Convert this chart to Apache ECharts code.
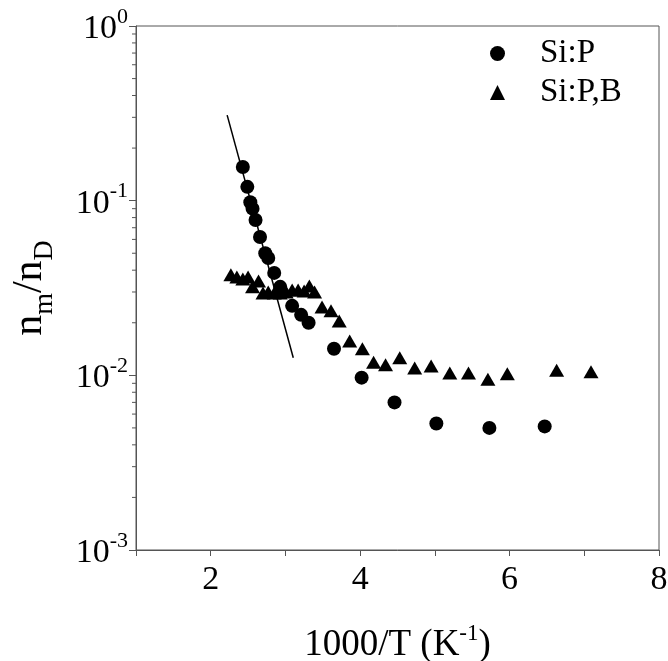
<!DOCTYPE html>
<html>
<head>
<meta charset="utf-8">
<script src="https://cdn.jsdelivr.net/npm/echarts@6/dist/echarts.min.js"></script>
<style>html,body{margin:0;padding:0;background:#fff}#c{width:668px;height:661px}</style>
</head>
<body>
<div id="c"></div>
<script>
// Si:P (circles)
const siP_x = [2.43, 2.49, 2.53, 2.56, 2.60, 2.66, 2.73, 2.77, 2.85, 2.93, 3.09, 3.21, 3.31, 3.65, 4.02, 4.46, 5.02, 5.73, 6.47];
const siP_y = [0.156, 0.120, 0.098, 0.090, 0.0775, 0.062, 0.050, 0.047, 0.0386, 0.0321, 0.025, 0.0222, 0.0200, 0.0142, 0.0097, 0.0070, 0.0053, 0.0050, 0.0051];
// Si:P,B (triangles)
const siPB_x = [2.27, 2.35, 2.43, 2.50, 2.56, 2.64, 2.70, 2.77, 2.85, 2.93, 3.01, 3.09, 3.17, 3.25, 3.32, 3.39, 3.49, 3.61, 3.72, 3.86, 4.03, 4.18, 4.34, 4.53, 4.73, 4.95, 5.20, 5.45, 5.71, 5.97, 6.63, 7.09];
const siPB_y = [0.0376, 0.0366, 0.0356, 0.0366, 0.0321, 0.0347, 0.0296, 0.0300, 0.0296, 0.0296, 0.0300, 0.0308, 0.0308, 0.0304, 0.0325, 0.0300, 0.0246, 0.0234, 0.0205, 0.0157, 0.0142, 0.0119, 0.0115, 0.0126, 0.0110, 0.0113, 0.0103, 0.0103, 0.0095, 0.0102, 0.0107, 0.0105];
// fitted line endpoints
const fit_x = [2.22, 3.105];
const fit_y = [0.309, 0.0126];
// axis ticks
const xTicks = [2, 4, 6, 8];
const yMinorTicks = [];
[0.001, 0.01, 0.1].forEach(d => { for (let k = 2; k <= 9; k++) yMinorTicks.push(d * k); });
const supMap = {'1': '0', '0.1': '-1', '0.01': '-2', '0.001': '-3'};

const font = "'Liberation Serif', 'Times New Roman', serif";
const zip = (a, b) => a.map((v, i) => [v, b[i]]);

const chart = echarts.init(document.getElementById('c'));
chart.setOption({
  animation: false,
  backgroundColor: '#fff',
  grid: {left: 136, right: 9, top: 26, bottom: 111, show: true, borderColor: '#555', borderWidth: 1,
         containLabel: false, outerBoundsMode: 'none'},
  legend: {
    orient: 'vertical', left: 485, top: 32, itemGap: 6, itemWidth: 15, itemHeight: 15,
    textStyle: {fontFamily: font, fontSize: 33, color: '#000', padding: [0, 0, 0, 30]},
    data: [{name: 'Si:P', icon: 'circle'}, {name: 'Si:P,B', icon: 'triangle'}]
  },
  xAxis: {
    type: 'value', min: 1, max: 8, interval: 1,
    axisLine: {show: true, lineStyle: {color: '#555', width: 1}},
    axisTick: {show: true, length: 6, inside: false, lineStyle: {color: '#555'}},
    splitLine: {show: false},
    axisLabel: {
      fontFamily: font, fontSize: 34, color: '#000', margin: 13,
      formatter: v => (xTicks.indexOf(v) >= 0 ? String(v) : '')
    },
    name: '{t|1000/T (K}{s|-1}{t|)}',
    nameLocation: 'middle', nameGap: 72,
    nameTextStyle: {rich: {
      t: {fontFamily: font, fontSize: 37, color: '#000', verticalAlign: 'bottom', lineHeight: 42},
      s: {fontFamily: font, fontSize: 23, color: '#000', verticalAlign: 'top', lineHeight: 42}
    }}
  },
  yAxis: {
    type: 'log', logBase: 10, min: 0.001, max: 1,
    axisLine: {show: true, lineStyle: {color: '#555', width: 1}},
    axisTick: {show: true, length: 7, lineStyle: {color: '#555'}},
    splitLine: {show: false},
    axisLabel: {
      margin: 8,
      formatter: v => '{b|10}{s|' + (supMap[String(v)] || '') + '}',
      rich: {
        b: {fontFamily: font, fontSize: 34, color: '#000', verticalAlign: 'bottom', lineHeight: 40},
        s: {fontFamily: font, fontSize: 22, color: '#000', verticalAlign: 'top', lineHeight: 40}
      }
    },
    name: '{n|n}{d|m}{n|/n}{d|D}',
    nameLocation: 'middle', nameGap: 77, nameRotate: 90,
    nameTextStyle: {rich: {
      n: {fontFamily: font, fontSize: 42, color: '#000', verticalAlign: 'top', lineHeight: 50},
      d: {fontFamily: font, fontSize: 28, color: '#000', verticalAlign: 'bottom', lineHeight: 50}
    }}
  },
  series: [
    {
      name: 'Si:P', type: 'scatter', symbol: 'circle', symbolSize: 14,
      itemStyle: {color: '#000', opacity: 1}, data: zip(siP_x, siP_y), z: 3
    },
    {
      name: 'Si:P,B', type: 'scatter', symbol: 'triangle', symbolSize: [15, 13],
      itemStyle: {color: '#000', opacity: 1}, data: zip(siPB_x, siPB_y), z: 3
    },
    {
      name: 'fit', type: 'line', showSymbol: false, symbol: 'none',
      lineStyle: {color: '#000', width: 1.5}, data: zip(fit_x, fit_y), z: 2
    },
    {
      name: 'minorTicks', type: 'custom', clip: false, silent: true,
      data: yMinorTicks.map(v => [1, v]),
      renderItem: (params, api) => {
        const p = api.coord([api.value(0), api.value(1)]);
        return {type: 'line', shape: {x1: p[0] - 4, y1: p[1], x2: p[0], y2: p[1]}, style: {stroke: '#555', lineWidth: 1}};
      }
    }
  ]
});
</script>
</body>
</html>
